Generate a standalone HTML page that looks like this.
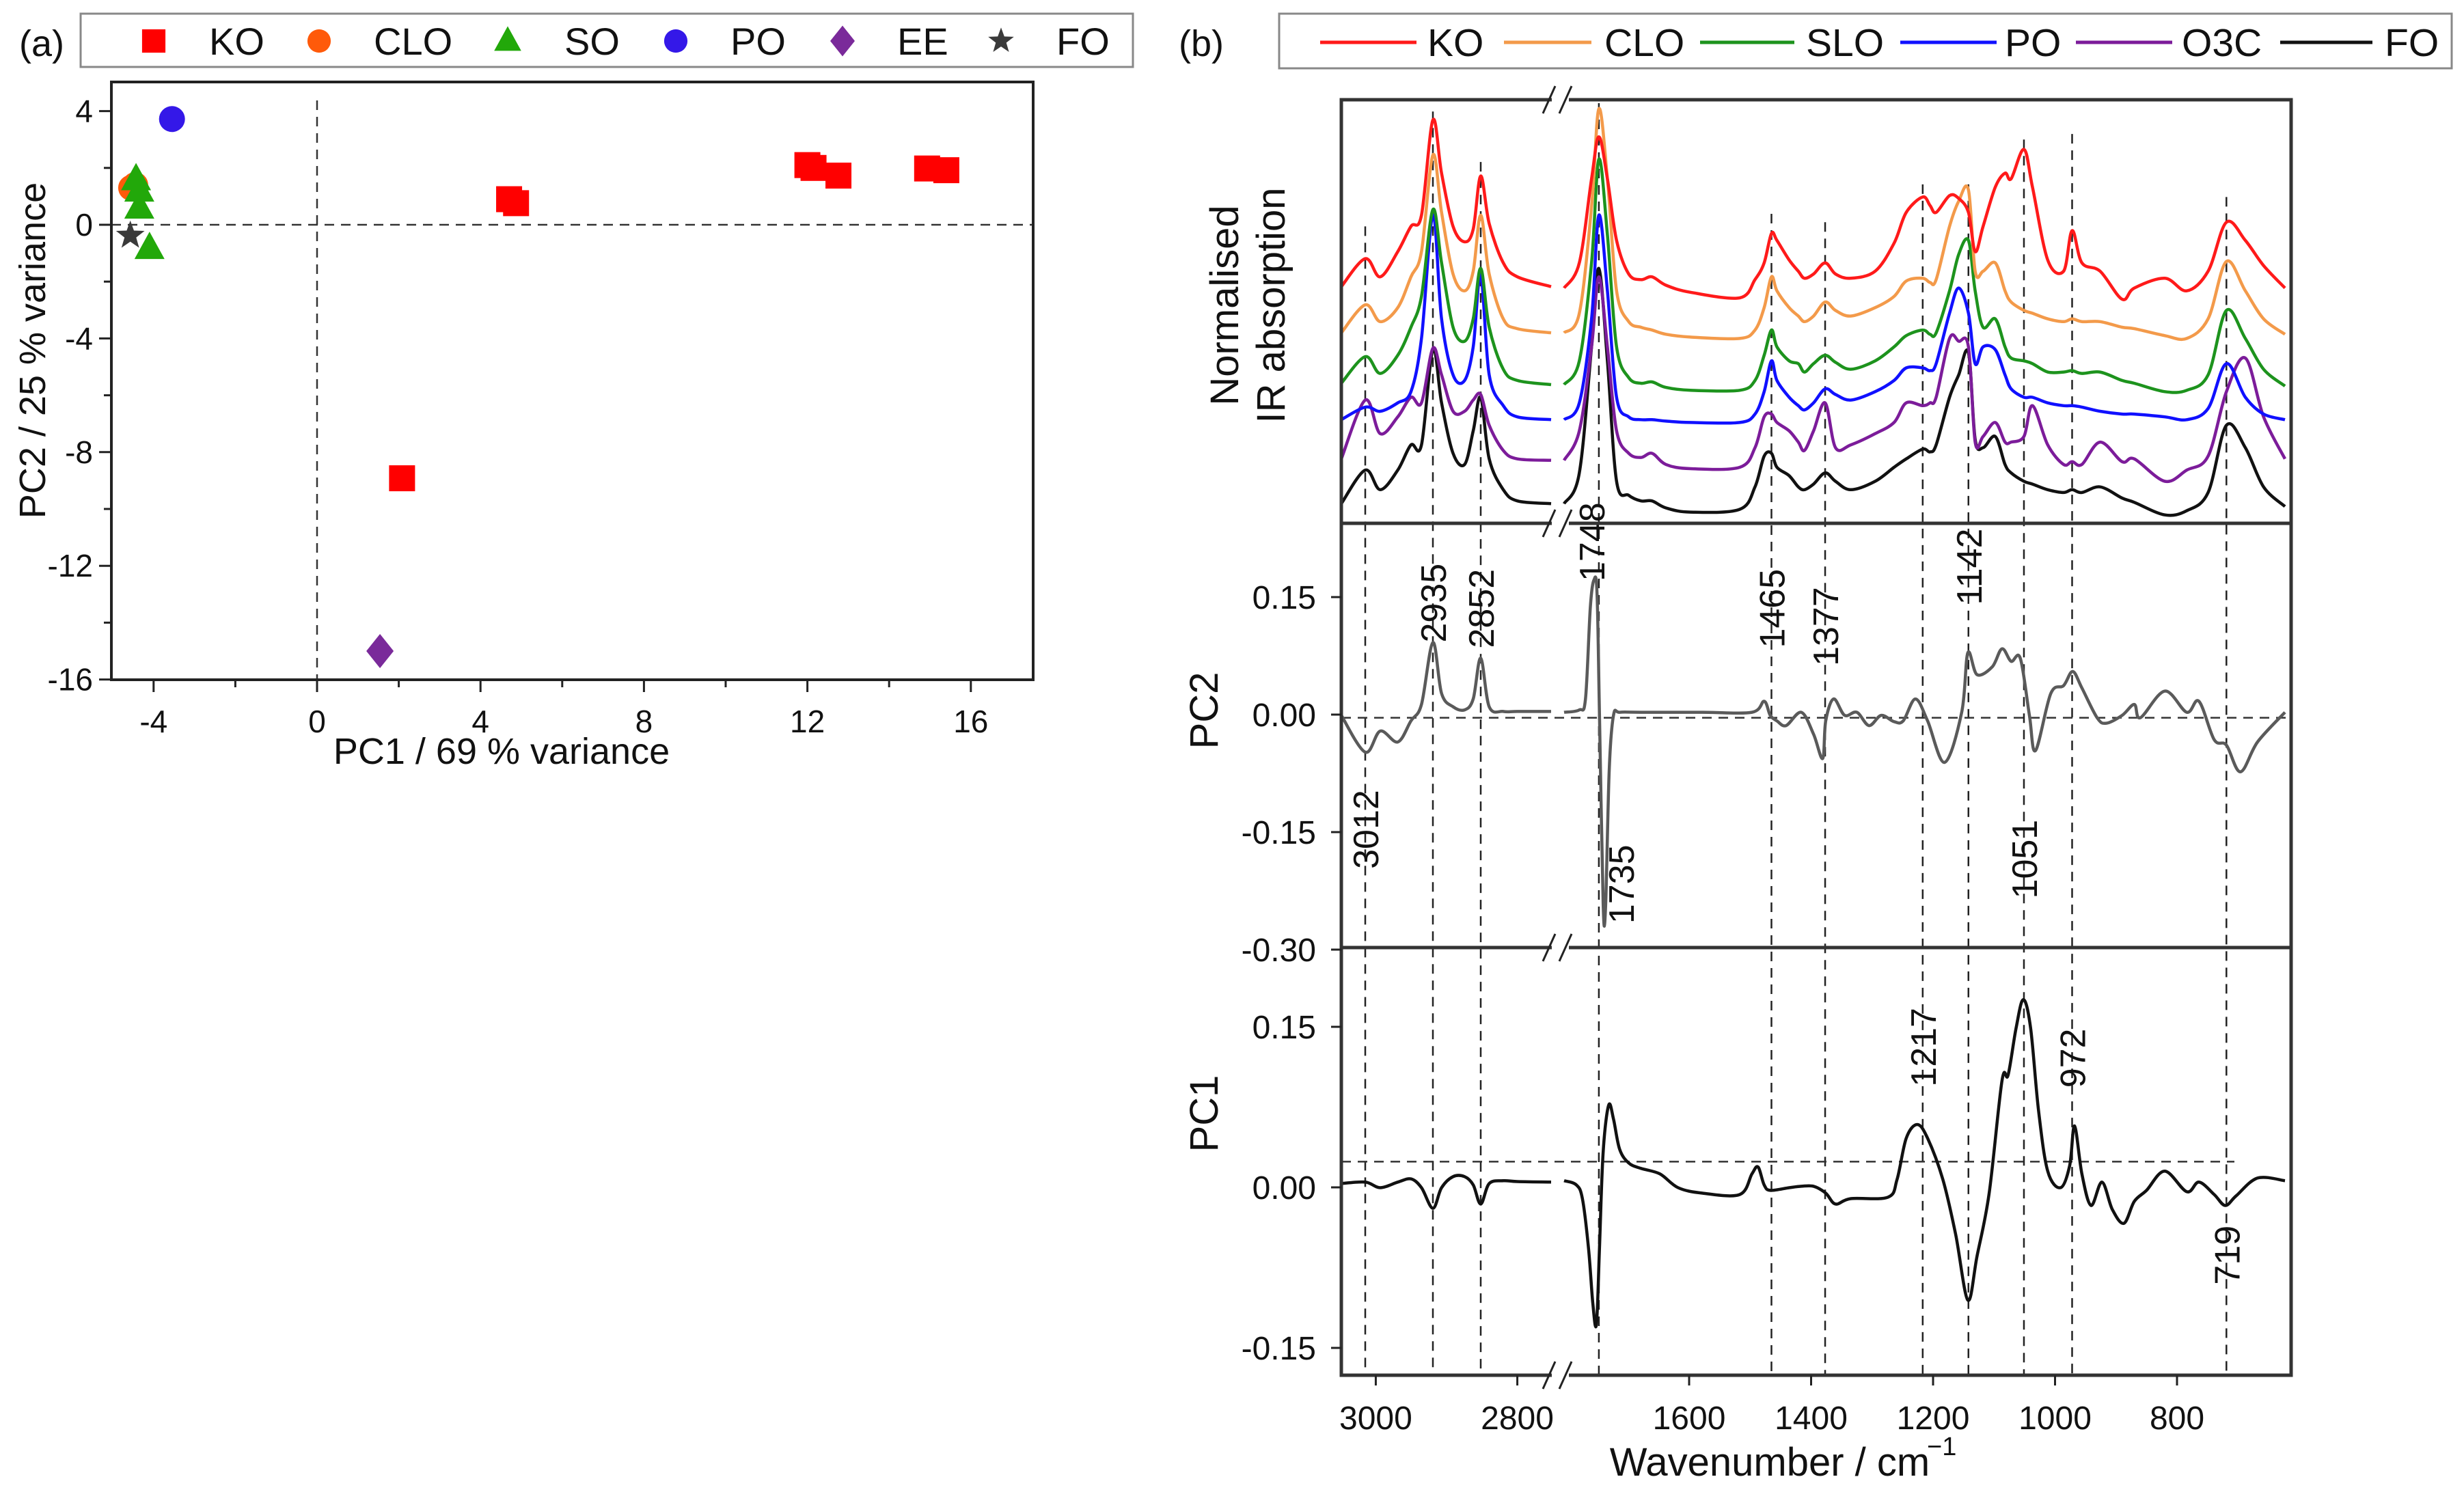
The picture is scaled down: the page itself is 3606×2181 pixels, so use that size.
<!DOCTYPE html>
<html><head><meta charset="utf-8"><style>
html,body{margin:0;padding:0;background:#fff}
svg{display:block;font-family:"Liberation Sans",Arial,sans-serif}
</style></head><body>
<svg id="fig" width="3606" height="2181" viewBox="0 0 3606 2181" xmlns="http://www.w3.org/2000/svg">
<defs>
<clipPath id="clipA"><rect x="163" y="120" width="1349" height="875"/></clipPath>
<clipPath id="clipTop"><rect x="1963" y="146" width="1390" height="620"/></clipPath>
<clipPath id="clipMid"><rect x="1963" y="766" width="1390" height="621"/></clipPath>
<clipPath id="clipBot"><rect x="1963" y="1387" width="1390" height="626"/></clipPath>
</defs>
<g id="panelA"></g>
<g id="panelB"></g>
</svg>
<script>
// ---------- Panel (a) data ----------
const koX = [4.7, 4.87, 12.0, 12.15, 12.76, 14.93, 15.4, 2.08];
const koY = [0.9, 0.76, 2.1, 2.0, 1.73, 1.98, 1.92, -8.92];
const cloX = [-4.55, -4.45];
const cloY = [1.3, 1.4];
const soX = [-4.43, -4.35, -4.35, -4.1];
const soY = [1.6, 1.2, 0.6, -0.82];
const poX = [-3.55];
const poY = [3.72];
const eeX = [1.54];
const eeY = [-15.0];
const foX = [-4.57];
const foY = [-0.38];
const aXTicks = [-4, 0, 4, 8, 12, 16];
const aYTicks = [4, 0, -4, -8, -12, -16];

// ---------- Panel (b) data ----------
const gridLeft = [3034,3012,2995,2975,2960,2948,2935,2920,2900,2880,2865,2852,2840,2820,2800,2752];
const gridRight = [1805,1780,1760,1748,1734,1719,1699,1679,1661,1638,1598,1517,1492,1477,1465,1456,1436,1421,1411,1396,1377,1360,1335,1295,1264,1244,1217,1205,1195,1173,1158,1142,1131,1118,1098,1082,1072,1051,1037,1012,986,972,956,926,890,870,820,784,749,719,688,658,623];

const koLeft = [84.5,94.5,88,97,106,110,144,125,106,100.5,105,124,107,93,88,84.5];
const koRight = [84,93,123,138,123,101,89,87,88,85,82.5,80.5,87,93,103.5,101,94,90,87.5,89,93,89,87.5,90,100,111,116.5,113.5,111,117,116,111,97,106,120,125,123,133.5,120,94,90,104.5,93,90,80,84,87.5,83,90,107.5,101,92,84];
const cloLeft = [68,78,72,77,88,97,131.5,111,89,83,90,110,89,73,69.5,68];
const cloRight = [68,75,113,148,123,83,72,70,69,67.5,66.5,66,69,77,88,83,77,74,72,74,79,76,74,77,81,86.5,87.5,86,87,106,115,119,90,90,93,83,79,76,75,73,72,73,72,72,70,69.5,67,66,73,93.5,83,73,67.5];
const sloLeft = [50,59.5,53.5,60,70,81,112,93,70,65,73,91,70,55,51,49.5];
const sloRight = [49.5,58,93,130,103,63,52,50,50.5,48.5,47.5,47.5,51,60,69,63,58,57,54,57,60,57.5,55,58,63,67,69,67.5,68,83,96,101,83,70,73,63,59,58,57,54,54,54.5,53.5,54,51,50,47,47.5,53,76,66,55,49];
const poLeft = [37,41.5,40,43,47,66,110,73,53,51,63,89,53,42,38,37];
const poRight = [37,43,73,110,83,45,38,37,37,36.5,36,36,39,47,58,51,45,42,40.5,43,48,46,44,47,51,55.5,55.5,54.5,57,75,84,75,57,63,62,53,48,45,45,43,42,42,41.5,40,39,39,38,37,41,57,45,39,37];
const o3cLeft = [23,44,32,38,45,43,62.5,53,40,40,44,46,35,26,23,22.5];
const o3cRight = [22.5,33,63,88,63,33,25,23.5,25,21,19.5,20,27,38,39,36,33,29,26,33,43,27,28,32,36,43,42,43,45,66,65,63,29,31,36,29,29,31,42,28,21,22,21,29,22,23,15,19,24,47,59,38,23];
const foLeft = [7,19,12,19,28,28,62,43,25,21,33,45,23,12,8,7];
const foRight = [7,18,63,91,58,15,10,8,8,5.5,4,5,13,24,25,20,17,13,12,14,18,15,12,15,20,23,26.5,25.5,28,45,53,61,30,27,31,21,18,15,14,12,11,12,11,13,9,7.5,3,4.5,11,35,27,13,6];

const pcLeftW = gridLeft;
const pc2Left = [-0.001,-0.048,-0.021,-0.035,-0.008,0.013,0.092,0.027,0.010,0.006,0.020,0.072,0.010,0.004,0.004,0.004];
const pc2RightW = [1805,1780,1770,1762,1756,1751,1747,1741,1737,1731,1724,1714,1679,1578,1497,1477,1467,1456,1441,1416,1396,1381,1376,1363,1345,1325,1305,1285,1264,1249,1229,1209,1181,1153,1143,1128,1103,1087,1072,1057,1042,1032,1007,986,971,956,931,916,890,870,860,820,784,764,739,719,696,668,623];
const pc2Right = [0.003,0.006,0.020,0.137,0.172,0.155,-0.001,-0.242,-0.246,-0.070,-0.001,0.003,0.003,0.003,0.003,0.017,-0.001,-0.008,-0.014,0.003,-0.025,-0.056,-0.008,0.020,-0.001,0.003,-0.014,-0.001,-0.009,-0.008,0.020,-0.008,-0.061,0.003,0.079,0.051,0.061,0.084,0.068,0.072,-0.001,-0.046,0.027,0.037,0.055,0.034,-0.004,-0.011,-0.001,0.013,-0.004,0.030,0.003,0.017,-0.032,-0.039,-0.073,-0.035,0.003];
const pc1Left = [0.0036,0.0049,-0.0003,0.0049,0.0079,-0.0003,-0.0195,-0.0003,0.010,0.010,0.0023,-0.0156,0.0036,0.0062,0.0054,0.0049];
const pc1RightW = [1805,1785,1775,1765,1758,1752,1747,1741,1732,1724,1714,1699,1679,1648,1618,1578,1517,1497,1487,1477,1467,1436,1416,1396,1376,1360,1335,1274,1259,1244,1226,1209,1184,1163,1143,1128,1108,1087,1077,1064,1052,1040,1027,1012,991,976,968,956,941,923,906,887,870,850,820,784,764,739,721,703,668,623];
const pc1Right = [0.0062,0.0023,-0.0105,-0.0567,-0.108,-0.128,-0.0567,0.033,0.0767,0.0638,0.0356,0.0228,0.0177,0.0126,-0.0003,-0.0054,-0.0067,0.0126,0.019,0.0023,-0.0028,-0.0003,0.001,0.001,-0.0054,-0.0156,-0.0105,-0.0092,0.0074,0.0459,0.0587,0.0459,0.0074,-0.0438,-0.1054,-0.0644,-0.0054,0.0997,0.1049,0.1485,0.1754,0.1485,0.0715,0.0151,-0.0003,0.0203,0.0574,0.0126,-0.0169,0.0049,-0.0208,-0.0336,-0.0131,-0.0028,0.0151,-0.0041,0.0049,-0.0067,-0.0169,-0.0079,0.0087,0.0062];

const dashW = [3012,2935,2852,1748,1465,1377,1217,1142,1051,972,719];
const dashTop = [106,147,129,150,110.5,107.5,121,121,137,139,116.5];
const bXTicks = [3000,2800,1600,1400,1200,1000,800];
const pc2Ticks = [0.15,0.00,-0.15,-0.30];
const pc1Ticks = [0.15,0.00,-0.15];
const pc2Labels = ["2935","2852","1748","1465","1377","1142","3012","1735","1051"];
const pc2LabelW = [2935,2852,1760,1465,1377,1142,3012,1712,1051];
const pc2LabelV = [0.092,0.085,0.170,0.085,0.062,0.140,-0.197,-0.267,-0.235];
const pc1Labels = ["1217","972","719"];
const pc1LabelW = [1217,972,719];
const pc1LabelV = [0.094,0.093,-0.091];

const NS = "http://www.w3.org/2000/svg";
function mk(tag, attrs, parent) {
  const e = document.createElementNS(NS, tag);
  for (const k in attrs) e.setAttribute(k, attrs[k]);
  parent.appendChild(e);
  return e;
}
function txt(s, attrs, parent) { const t = mk("text", attrs, parent); t.textContent = s; return t; }

// ===== Panel (a) =====
const A = document.getElementById("panelA");
const xa = v => 464 + v * 59.8;
const ya = v => 329 - v * 41.6;
let e;
e = txt("(a)", {x: 28, y: 82, "font-size": 54, fill: "#111"}, A);


const legA = mk("g", {}, A);


mk("rect", {x: 118, y: 20, width: 1540, height: 78, fill: "#fff", stroke: "#888", "stroke-width": 3}, legA);

function markerA(kind, cx, cy, parent, s) {
  s = s || 1;
  let m;
  if (kind === "square") m = mk("rect", {x: cx - 19*s, y: cy - 19*s, width: 38*s, height: 38*s, fill: "#ff0000"}, parent);
  else if (kind === "circleO") m = mk("circle", {cx: cx, cy: cy, r: 19*s, fill: "#ff5a0a"}, parent);
  else if (kind === "circleB") m = mk("circle", {cx: cx, cy: cy, r: 19*s, fill: "#3418e8"}, parent);
  else if (kind === "tri") m = mk("polygon", {points: `${cx},${cy-24*s} ${cx+22*s},${cy+16*s} ${cx-22*s},${cy+16*s}`, fill: "#22a80a"}, parent);
  else if (kind === "diamond") m = mk("polygon", {points: `${cx},${cy-25*s} ${cx+20*s},${cy} ${cx},${cy+25*s} ${cx-20*s},${cy}`, fill: "#7a2a9a"}, parent);
  else if (kind === "star") {
    let p = [];
    for (let i = 0; i < 10; i++) { const r = (i % 2 ? 9 : 22) * s; const ang = -Math.PI/2 + i * Math.PI/5; p.push((cx + r*Math.cos(ang)).toFixed(1) + "," + (cy + r*Math.sin(ang)).toFixed(1)); }
    m = mk("polygon", {points: p.join(" "), fill: "#3a3a3a"}, parent);
  }
  return m;
}
const legAItems = [["square","KO",225,306],["circleO","CLO",467,547],["tri","SO",743,826],["circleB","PO",989,1069],["diamond","EE",1233,1313],["star","FO",1465,1546]];
legAItems.forEach(it => {
  const g = mk("g", {}, legA);
  
  
  markerA(it[0], it[2], 60, g, 0.9);
  txt(it[1], {x: it[3], y: 80, "font-size": 56, fill: "#111"}, g);
});

const axA = mk("g", {}, A);


for (let v = -4; v <= 17; v += 2) {
  const major = aXTicks.includes(v);
  mk("line", {x1: xa(v), x2: xa(v), y1: 995, y2: 995 + (major ? 18 : 11), stroke: "#222", "stroke-width": 3}, axA);
}
aXTicks.forEach(v => txt(String(v), {x: xa(v), y: 1072, "font-size": 46, "text-anchor": "middle", fill: "#111"}, axA));
for (let v = -16; v <= 5; v += 2) {
  const major = aYTicks.includes(v);
  mk("line", {x1: 163 - (major ? 18 : 11), x2: 163, y1: ya(v), y2: ya(v), stroke: "#222", "stroke-width": 3}, axA);
}
aYTicks.forEach(v => txt(String(v), {x: 136, y: ya(v) + 16, "font-size": 46, "text-anchor": "end", fill: "#111"}, axA));
mk("line", {x1: xa(0), x2: xa(0), y1: 147, y2: 995, stroke: "#333", "stroke-width": 2.5, "stroke-dasharray": "14,10"}, axA);
mk("line", {x1: 163, x2: 1512, y1: ya(0), y2: ya(0), stroke: "#333", "stroke-width": 2.5, "stroke-dasharray": "14,10"}, axA);
e = txt("PC1 / 69 % variance", {x: 734, y: 1118, "font-size": 54, "text-anchor": "middle", fill: "#111"}, A);


e = txt("PC2 / 25 % variance", {x: 0, y: 0, "font-size": 54, "text-anchor": "middle", fill: "#111", transform: "translate(66,513) rotate(-90)"}, A);



const ptsA = mk("g", {"clip-path": "url(#clipA)"}, A);


function series(xs, ys, kind, name) {
  xs.forEach((x, i) => {
    const m = markerA(kind, xa(x), ya(ys[i]), ptsA, 1);
    
    
  });
}
series(cloX, cloY, "circleO", "clo");
series(soX, soY, "tri", "so");
series(foX, foY, "star", "fo");
series(poX, poY, "circleB", "po");
series(eeX, eeY, "diamond", "ee");
series(koX, koY, "square", "ko");
mk("rect", {x: 163, y: 120, width: 1349, height: 875, fill: "none", stroke: "#222", "stroke-width": 4}, A);

// ===== Panel (b) =====
const B = document.getElementById("panelB");
// left segment: piecewise-linear anchors matching the reference's reference lines
const leftAW = [3034, 3012, 2935, 2852, 2752];
const leftAX = [1963, 1998, 2097, 2167, 2270];
function bx(w) {
  if (w < 2000) return 2472 + (1600 - w) * 0.8925;
  for (let i = 0; i < leftAW.length - 1; i++) {
    if (w <= leftAW[i] && w >= leftAW[i+1] || i === leftAW.length - 2) {
      const t = (leftAW[i] - w) / (leftAW[i] - leftAW[i+1]);
      return leftAX[i] + t * (leftAX[i+1] - leftAX[i]);
    }
  }
  return leftAX[0] + (leftAW[0] - w);
}
const yT = a => 766 - a * 4.1;
const y2 = v => 1046 - v * 1146.7;
const y1 = v => 1738 - v * 1566.7;

e = txt("(b)", {x: 1725, y: 82, "font-size": 54, fill: "#111"}, B);


const legB = mk("g", {}, B);


mk("rect", {x: 1872, y: 20, width: 1716, height: 80, fill: "#fff", stroke: "#888", "stroke-width": 3}, legB);
const legBItems = [["KO","#ff1a1a",1932,2073,2089],["CLO","#f39a4a",2201,2329,2348],["SLO","#1d931d",2488,2626,2643],["PO","#1010ff",2781,2922,2934],["O3C","#7c1c9a",3038,3179,3193],["FO","#111111",3337,3472,3490]];
legBItems.forEach(it => {
  const g = mk("g", {}, legB);
  
  
  mk("line", {x1: it[2], x2: it[3], y1: 62, y2: 62, stroke: it[1], "stroke-width": 5}, g);
  txt(it[0], {x: it[4], y: 82, "font-size": 57, fill: "#111"}, g);
});

function pathFrom(ws, vs, yf) {
  const P = ws.map((w, i) => [bx(w), yf(vs[i])]);
  let d = "M" + P[0][0].toFixed(1) + "," + P[0][1].toFixed(1);
  for (let i = 0; i < P.length - 1; i++) {
    const p0 = P[Math.max(0, i-1)], p1 = P[i], p2 = P[i+1], p3 = P[Math.min(P.length-1, i+2)];
    const k = 1/6;
    const c1x = p1[0] + (p2[0]-p0[0])*k, c1y = p1[1] + (p2[1]-p0[1])*k;
    const c2x = p2[0] - (p3[0]-p1[0])*k, c2y = p2[1] - (p3[1]-p1[1])*k;
    d += ` C${c1x.toFixed(1)},${c1y.toFixed(1)} ${c2x.toFixed(1)},${c2y.toFixed(1)} ${p2[0].toFixed(1)},${p2[1].toFixed(1)}`;
  }
  return d;
}

const dg = mk("g", {}, B);


dashW.forEach((w, i) => {
  mk("line", {x1: bx(w), x2: bx(w), y1: yT(dashTop[i]), y2: 2013, stroke: "#222", "stroke-width": 2.5, "stroke-dasharray": "14,10"}, dg);
});
mk("line", {x1: 1963, x2: 3353, y1: y2(-0.004), y2: y2(-0.004), stroke: "#333", "stroke-width": 2.5, "stroke-dasharray": "14,10"}, dg);
mk("line", {x1: 1963, x2: 3270, y1: y1(0.024), y2: y1(0.024), stroke: "#333", "stroke-width": 2.5, "stroke-dasharray": "14,10"}, dg);

const specG = mk("g", {"clip-path": "url(#clipTop)", fill: "none", "stroke-width": 4.5, "stroke-linejoin": "round"}, B);


const specs = [["ko", koLeft, koRight, "#ff1a1a"],["clo", cloLeft, cloRight, "#f39a4a"],["slo", sloLeft, sloRight, "#1d931d"],["po", poLeft, poRight, "#1010ff"],["o3c", o3cLeft, o3cRight, "#7c1c9a"],["fo", foLeft, foRight, "#111111"]];
specs.slice().reverse().forEach(s => {
  const p = mk("path", {d: pathFrom(gridLeft, s[1], yT) + " " + pathFrom(gridRight, s[2], yT), stroke: s[3]}, specG);
  
  
});

const pc2G = mk("g", {"clip-path": "url(#clipMid)", fill: "none", "stroke-width": 4.5, "stroke-linejoin": "round"}, B);


e = mk("path", {d: pathFrom(pcLeftW, pc2Left, y2) + " " + pathFrom(pc2RightW, pc2Right, y2), stroke: "#5a5a5a"}, pc2G);


const pc1G = mk("g", {"clip-path": "url(#clipBot)", fill: "none", "stroke-width": 4.5, "stroke-linejoin": "round"}, B);


e = mk("path", {d: pathFrom(pcLeftW, pc1Left, y1) + " " + pathFrom(pc1RightW, pc1Right, y1), stroke: "#111"}, pc1G);



const lblG = mk("g", {"font-size": 52, fill: "#111"}, B);


pc2Labels.forEach((s, i) => {
  const x = bx(pc2LabelW[i]) + 19, y = y2(pc2LabelV[i]);
  txt(s, {x: 0, y: 0, transform: `translate(${x},${y}) rotate(-90)`}, lblG);
});
pc1Labels.forEach((s, i) => {
  const x = bx(pc1LabelW[i]) + 19, y = y1(pc1LabelV[i]);
  txt(s, {x: 0, y: 0, transform: `translate(${x},${y}) rotate(-90)`}, lblG);
});

const fr = mk("g", {fill: "none", stroke: "#333", "stroke-width": 5}, B);


mk("rect", {x: 1963, y: 146, width: 1390, height: 1867}, fr);
mk("line", {x1: 1963, x2: 3353, y1: 766, y2: 766}, fr);
mk("line", {x1: 1963, x2: 3353, y1: 1387, y2: 1387}, fr);

const tg = mk("g", {stroke: "#222", "stroke-width": 3}, B);


bXTicks.forEach(w => mk("line", {x1: bx(w), x2: bx(w), y1: 2013, y2: 2028}, tg));
pc2Ticks.forEach(v => mk("line", {x1: 1948, x2: 1963, y1: y2(v), y2: y2(v)}, tg));
pc1Ticks.forEach(v => mk("line", {x1: 1948, x2: 1963, y1: y1(v), y2: y1(v)}, tg));
const tl = mk("g", {"font-size": 48, fill: "#111"}, B);


bXTicks.forEach(w => txt(String(w), {x: bx(w), y: 2092, "text-anchor": "middle"}, tl));
pc2Ticks.forEach(v => txt(v.toFixed(2), {x: 1926, y: y2(v) + 17, "text-anchor": "end"}, tl));
pc1Ticks.forEach(v => txt(v.toFixed(2), {x: 1926, y: y1(v) + 17, "text-anchor": "end"}, tl));

const brk = mk("g", {}, B);


[146, 766, 1387, 2013].forEach(y => {
  mk("rect", {x: 2271, y: y - 8, width: 25, height: 16, fill: "#fff"}, brk);
  mk("line", {x1: 2258, y1: y + 20, x2: 2276, y2: y - 20, stroke: "#222", "stroke-width": 3}, brk);
  mk("line", {x1: 2282, y1: y + 20, x2: 2300, y2: y - 20, stroke: "#222", "stroke-width": 3}, brk);
});

e = txt("Wavenumber / cm", {x: 2590, y: 2160, "font-size": 58, "text-anchor": "middle", fill: "#111"}, B);


e = txt("−1", {x: 2820, y: 2130, "font-size": 38, fill: "#111"}, B);


e = txt("PC2", {x: 0, y: 0, "font-size": 58, "text-anchor": "middle", fill: "#111", transform: "translate(1782,1040) rotate(-90)"}, B);


e = txt("PC1", {x: 0, y: 0, "font-size": 58, "text-anchor": "middle", fill: "#111", transform: "translate(1782,1630) rotate(-90)"}, B);


e = txt("Normalised", {x: 0, y: 0, "font-size": 58, "text-anchor": "middle", fill: "#111", transform: "translate(1812,447) rotate(-90)"}, B);


e = txt("IR absorption", {x: 0, y: 0, "font-size": 58, "text-anchor": "middle", fill: "#111", transform: "translate(1880,447) rotate(-90)"}, B);


</script>
</body></html>
